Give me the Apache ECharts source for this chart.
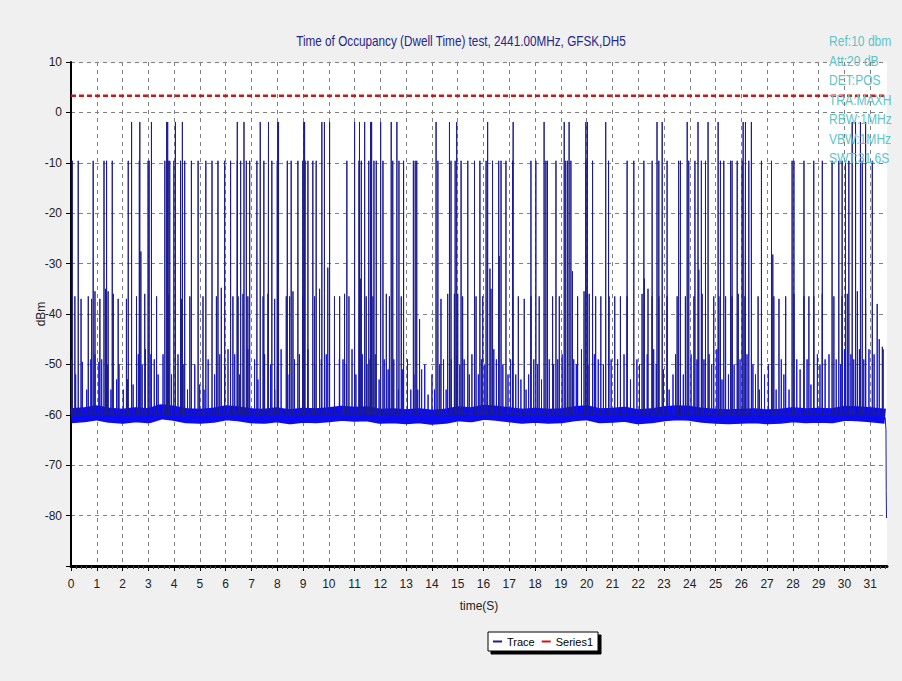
<!DOCTYPE html>
<html><head><meta charset="utf-8">
<script src="https://cdn.jsdelivr.net/npm/echarts@6/dist/echarts.min.js"></script>
<style>html,body{margin:0;padding:0;background:#f0f0f0}#c{width:902px;height:681px}</style>
</head><body><div id="c"></div>
<script>
const FONT = "'Liberation Sans',Arial,sans-serif";
const titleText = 'Time of Occupancy (Dwell Time) test, 2441.00MHz, GFSK,DH5';
const infoLines = ['Ref:10 dbm','Att:20 dB','DET:POS','TRA:MAXH','RBW:1MHz','VBW:1MHz','SWT:31.6S'];
const xTicks = [0,1,2,3,4,5,6,7,8,9,10,11,12,13,14,15,16,17,18,19,20,21,22,23,24,25,26,27,28,29,30,31];
const limitLevel = 3.3;           // Series1 (red dashed)
const floorLevel = -60;
const hiLevel = -1.9;
const midLevel = -9.6;
// spikes reaching ~ -2 dBm (time, s)
const hiT = [2.35,2.67,3.12,3.71,3.75,4.05,4.32,6.45,6.71,7.34,7.66,8.02,8.05,9.03,9.06,9.73,9.83,10.03,
  11.0,11.19,11.39,11.62,11.66,12.01,12.42,12.64,14.16,14.68,14.96,16.16,17.15,18.35,19.13,19.32,19.97,20.03,20.74,
  22.73,22.93,23.9,24.32,24.71,25.1,26.07,26.16,26.39,30.3,30.43,30.62,30.82];
// spikes reaching ~ -9.6 dBm
const midT = [0.05,0.28,0.86,1.28,1.38,1.6,2.22,2.65,2.99,3.03,3.64,3.77,3.83,3.99,4.25,4.41,4.67,4.93,5.23,5.47,5.70,5.96,6.19,6.45,6.58,6.8,6.93,7.21,7.48,7.79,8.0,8.39,8.54,8.8,8.99,9.08,9.19,9.38,9.51,
  10.7,11.17,11.26,11.55,11.75,11.84,12.1,12.48,12.72,12.9,13.28,13.35,13.41,14.23,14.74,14.9,15.13,15.39,15.65,15.86,16.1,16.35,16.59,16.68,16.87,17.13,17.84,18.03,18.42,18.48,18.81,19.19,19.26,19.39,19.97,20.23,20.85,
  21.57,21.83,22.22,22.54,22.8,23.12,23.57,23.64,23.96,24.2,24.45,24.61,25.19,25.32,25.58,25.64,25.84,26.03,26.29,26.78,27.17,27.97,28.04,28.43,28.81,29.14,29.52,29.78,29.91,30.04,30.17,30.43,30.69,31.08];
// isolated spikes at other levels [time, dBm]
const oddSpikes = [[2.71,-27.6],[9.96,-30.8],[16.25,-31],[16.61,-28.5],[19.45,-31.5],[24.35,-31.2],[27.22,-28.2]];
// spikes around -36 dBm [time, dBm]
const medSpikes = [[0.15,-36.5],[0.39,-37],[0.67,-36.5],[0.8,-37],[0.93,-35.5],[1.12,-37],[1.34,-35],[1.44,-35.5],[1.64,-36],[1.83,-37],[2.15,-37],[2.54,-36.5],[2.86,-36],[3.32,-36.5],[3.77,-36],[4.28,-37],[4.61,-36.5],[5.12,-36.5],[5.64,-36.5],[5.83,-34.8],[6.28,-36.5],[6.48,-36.5],[6.67,-36],[6.86,-36.5],[7.45,-36.5],[7.64,-36],[7.9,-37],[8.35,-36.5],[8.48,-36.5],[8.61,-35.5],[8.99,-36.5],[9.45,-36.5],[9.64,-35],[10.22,-36.5],
  [10.42,-36.5],[10.61,-36],[10.78,-36.5],[11.22,-33],[11.45,-36.5],[11.71,-36.5],[12.23,-36],[12.35,-36.5],[12.81,-36.5],[13.52,-41],[14.35,-37],[14.61,-36],[14.87,-36],[15.0,-36],[15.19,-36.5],[15.71,-36.5],[15.97,-36.5],[16.29,-35],[17.13,-36.5],[17.35,-36.5],[17.58,-37],[17.84,-36.5],[18.16,-36.5],[18.68,-36.5],[18.94,-36.5],[19.65,-36.5],[19.9,-35.5],[20.1,-36],[20.35,-36.5],[20.55,-36.5],[20.87,-36.5],
  [21.09,-36.5],[21.31,-36.5],[21.57,-36.5],[22.15,-36],[22.24,-33],[22.38,-35],[22.54,-36.5],[22.8,-36.5],[23.12,-36.5],[23.51,-36.5],[23.64,-36.5],[23.83,-36.5],[24.16,-36.5],[24.48,-36],[24.93,-36.5],[25.13,-36.5],[25.39,-36.5],[25.64,-36.5],[25.88,-36],[26.14,-36.5],[26.65,-36.5],[27.26,-36.5],[27.46,-37],[27.72,-36.5],[28.04,-36],[28.43,-36.5],[28.62,-36.5],[28.81,-36.5],[29.14,-36],[29.59,-36.5],[29.91,-36.5],[30.11,-36],[30.5,-35.5],[30.82,-37],[31.27,-38],[31.47,-46.5]];
// small spikes above the noise floor [time, dBm]
const smallSpikes = [[0.03,-49],[0.18,-52],[0.44,-49.5],[0.61,-55],[0.77,-49],[0.93,-48],[1.08,-49.5],[1.19,-49],[1.42,-50],[1.55,-55],[1.77,-53],[1.86,-50],[2.03,-55],[2.19,-53],[2.41,-54],[2.61,-48],[2.76,-50],[2.89,-47],[3.1,-48],[3.23,-49],[3.38,-52],[3.57,-48],[3.77,-47],[3.9,-52],[4.15,-48],[4.35,-50],[4.52,-55],[4.8,-50],[4.99,-54],[5.16,-55],[5.32,-49],[5.57,-52],[5.77,-48],[5.96,-50],[6.09,-47],[6.35,-48],[6.54,-52],[6.86,-47],[7.12,-49],[7.25,-53],[7.51,-48],[7.74,-50],[7.9,-55],[8.15,-47],[8.41,-52],[8.67,-49],[8.86,-48],[9.19,-47],[9.45,-50],[9.71,-49],[9.9,-48],[10.22,-47],[10.41,-49],
  [10.55,-49],[10.68,-50],[10.9,-47],[11.05,-52],[11.3,-48],[11.48,-50],[11.6,-49],[11.8,-48],[11.95,-53],[12.15,-49],[12.3,-51],[12.52,-49],[12.7,-55],[12.85,-51],[13.05,-49],[13.18,-55],[13.3,-52],[13.45,-55],[13.6,-51],[13.72,-50],[13.85,-56],[14.0,-52],[14.1,-55],[14.3,-50],[14.45,-49],[14.55,-55],[14.75,-49],[14.95,-48],[15.08,-50],[15.25,-49],[15.45,-52],[15.55,-48],[15.8,-52],[15.92,-49],[16.05,-50],[16.4,-47],[16.5,-49],[16.75,-50],[16.95,-52],[17.05,-49],[17.25,-52],[17.45,-53],[17.65,-55],[17.75,-52],[17.95,-49],[18.1,-50],[18.25,-53],[18.55,-49],[18.72,-50],[18.88,-49],[19.05,-48],[19.5,-49],[19.6,-50],[19.8,-47],[20.05,-50],[20.3,-48],[20.45,-49],[20.65,-50],[20.95,-49],
  [21.2,-49],[21.45,-48],[21.7,-53],[21.95,-49],[22.05,-50],[22.35,-48],[22.6,-47],[22.7,-50],[22.98,-51],[23.2,-55],[23.35,-52],[23.45,-48],[23.75,-52],[24.05,-48],[24.28,-49],[24.55,-49],[24.75,-48],[24.85,-50],[25.05,-47],[25.25,-53],[25.5,-52],[25.72,-50],[25.95,-49],[26.22,-48],[26.45,-50],[26.55,-52],[26.7,-55],[26.9,-52],[27.05,-50],[27.35,-55],[27.55,-49],[27.65,-52],[27.85,-55],[28.15,-49],[28.28,-51],[28.55,-49],[28.7,-54],[28.95,-48],[29.05,-50],[29.25,-49],[29.4,-48],[29.68,-49],[29.85,-50],[30.0,-47],[30.25,-48],[30.36,-49],[30.58,-47],[30.75,-49],[30.95,-47],[31.15,-48],[31.35,-45],[31.5,-47]];
// noise floor centre (time, dBm)
const floorT = [0,0.5,1,1.5,2,2.5,3,3.5,4,4.5,5,5.5,6,6.5,7,7.5,8,8.5,9,9.5,10,10.5,11,11.5,12,12.5,13,13.5,14,14.5,15,15.5,16,16.5,17,17.5,18,18.5,19,19.5,20,20.5,21,21.5,22,22.5,23,23.5,24,24.5,25,25.5,26,26.5,27,27.5,28,28.5,29,29.5,30,30.5,31,31.58];
const floorV = [-60.2,-60.0,-59.6,-60.1,-60.3,-60.0,-60.2,-59.4,-59.7,-60.2,-60.3,-60.1,-59.6,-59.8,-60.2,-60.3,-60.0,-60.4,-60.1,-60.2,-60.0,-59.7,-59.9,-59.8,-60.3,-60.2,-60.4,-60.2,-60.5,-60.3,-59.8,-60.0,-59.5,-59.7,-60.0,-60.3,-60.1,-60.3,-60.2,-59.8,-59.6,-60.2,-60.1,-59.9,-60.4,-60.2,-59.8,-59.6,-59.7,-60.1,-60.3,-60.4,-60.3,-60.2,-60.4,-60.3,-60.0,-60.2,-60.1,-60.2,-59.7,-59.8,-60.0,-60.3];
// trailing drop at the end of the sweep
const tailT = [31.58,31.61,31.62,31.63];
const tailV = [-60.5,-63,-75,-80.5];

function spikesToLine(events){
  events.sort((a,b)=>a[0]-b[0]);
  const out = [];
  events.forEach(e=>{ out.push([e[0],floorLevel],[e[0],e[1]],[e[0],floorLevel]); });
  return out;
}
const bigEvents = hiT.map(t=>[t,hiLevel]).concat(midT.map(t=>[t,midLevel]), oddSpikes, medSpikes);
const bigLine = spikesToLine(bigEvents);
bigLine.unshift([0,floorLevel]);
tailT.forEach((t,i)=>bigLine.push([t,tailV[i]]));
const smallLine = spikesToLine(smallSpikes.map(p=>p.slice()));
const floorLine = floorT.map((t,i)=>[t,floorV[i]]);

const chart = echarts.init(document.getElementById('c'), null, {renderer:'svg'});
chart.setOption({
  animation:false,
  backgroundColor:'#f0f0f0',
  textStyle:{fontFamily:FONT},
  graphic:[
    {type:'text',x:461,y:41,scaleX:0.84,z:100,
      style:{text:titleText,x:0,y:0,align:'center',verticalAlign:'middle',fill:'#26268c',font:"14px "+FONT}},
    {type:'text',x:829,y:31,scaleX:0.78,z:100,
      style:{text:infoLines.join('\n'),x:0,y:0,fill:'#5fc4c8',font:"15.5px "+FONT,lineHeight:19.5}}],
  legend:{left:488,top:632,padding:[4,5],itemGap:7,itemWidth:9,itemHeight:2,
    backgroundColor:'#ffffff',borderColor:'#000',borderWidth:1,
    shadowColor:'#000',shadowOffsetX:3,shadowOffsetY:3,shadowBlur:0,
    textStyle:{fontFamily:FONT,fontSize:11,color:'#000'},
    data:[{name:'Trace',icon:'rect'},{name:'Series1',icon:'rect'}]},
  grid:{left:71,right:15,top:62,bottom:115,show:true,backgroundColor:'#ffffff',borderWidth:0},
  xAxis:{type:'value',min:0,max:31.65,interval:1,name:'time(S)',nameLocation:'middle',nameGap:34,nameMoveOverlap:false,
    nameTextStyle:{fontFamily:FONT,fontSize:12,color:'#222'},
    axisLine:{show:true,onZero:false,lineStyle:{color:'#000',width:3}},
    axisTick:{show:true,length:5,customValues:xTicks,lineStyle:{color:'#000'}},
    minorTick:{show:true,splitNumber:5,length:3,lineStyle:{color:'#444'}},
    axisLabel:{customValues:xTicks,margin:12,fontFamily:FONT,fontSize:12,color:'#222'},
    splitLine:{show:true,lineStyle:{color:'#808080',type:[4,4],width:1}}},
  yAxis:{type:'value',min:-90,max:10,interval:10,name:'dBm',nameLocation:'middle',nameGap:24,nameMoveOverlap:false,
    nameTextStyle:{fontFamily:FONT,fontSize:12,color:'#222'},
    axisLine:{show:true,onZero:false,lineStyle:{color:'#000',width:2}},
    axisTick:{show:true,length:5,lineStyle:{color:'#000'}},
    axisLabel:{margin:9,fontFamily:FONT,fontSize:12,color:'#222',formatter:v=>v===-90?'':String(v)},
    splitLine:{show:true,lineStyle:{color:'#808080',type:[4,4],width:1}}},
  series:[
    {name:'Floor',type:'line',data:floorLine,showSymbol:false,symbol:'none',silent:true,
      lineStyle:{color:'#0c0cf0',width:15,cap:'butt'},z:2},
    {name:'Noise',type:'line',data:smallLine,showSymbol:false,symbol:'none',silent:true,
      lineStyle:{color:'#1414e8',width:1},z:3},
    {name:'Trace',type:'line',data:bigLine,showSymbol:false,symbol:'none',
      lineStyle:{color:'#1c1c90',width:1},itemStyle:{color:'#1c1c90'},z:4},
    {name:'Series1',type:'line',data:[[0,limitLevel],[31.65,limitLevel]],showSymbol:false,symbol:'none',
      lineStyle:{color:'#d41414',width:2.5,type:[5,3]},itemStyle:{color:'#d41414'},z:5}
  ]
});
</script></body></html>
